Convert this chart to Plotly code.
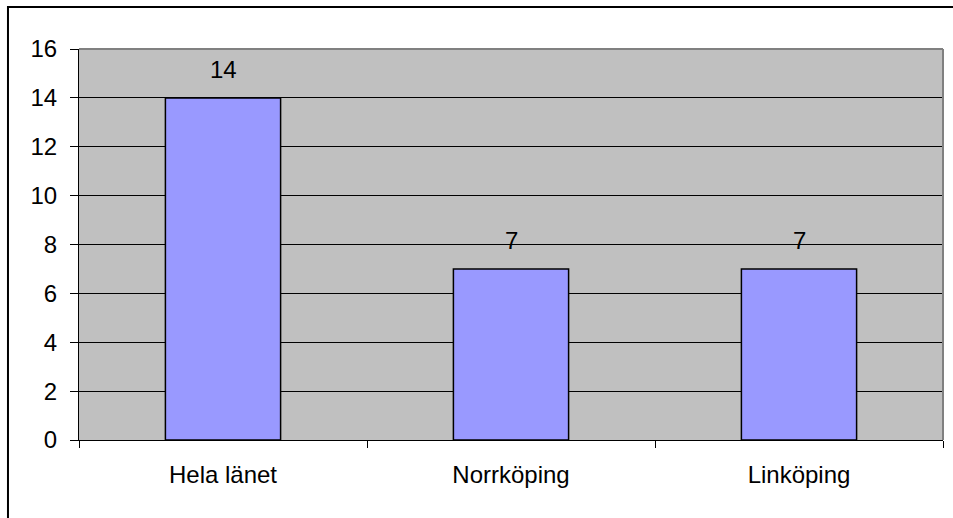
import plotly.graph_objects as go

categories = ["Hela länet", "Norrköping", "Linköping"]
values = [14, 7, 7]
y_ticks = [0, 2, 4, 6, 8, 10, 12, 14, 16]

FONT = "Liberation Sans, Arial, sans-serif"
FS = 24

fig = go.Figure()
fig.add_trace(go.Bar(
    x=categories, y=values, width=0.4,
    marker=dict(color="#9999FF", line=dict(color="black", width=1.5)),
    hoverinfo="x+y",
))

for c, v in zip(categories, values):
    fig.add_annotation(x=c, y=v, text=str(v), showarrow=False,
                       yanchor="middle", yshift=28.5,
                       font=dict(family=FONT, size=FS, color="black"))

# outer chart frame (left and top edges visible)
fig.add_shape(type="rect", xref="paper", yref="paper",
              x0=-0.0822, x1=1.5, y0=-1, y1=1.1074,
              line=dict(color="black", width=2), layer="above")
# plot area top/right border
fig.add_shape(type="line", xref="paper", yref="paper", x0=0, x1=1, y0=1, y1=1,
              line=dict(color="#808080", width=2))
fig.add_shape(type="line", xref="paper", yref="paper", x0=1, x1=1, y0=0, y1=1,
              line=dict(color="#808080", width=2))

fig.update_layout(
    width=953, height=518,
    margin=dict(l=79, r=10, t=49, b=78),
    paper_bgcolor="white", plot_bgcolor="#C0C0C0",
    font=dict(family=FONT, size=FS, color="black"),
    showlegend=False,
    xaxis=dict(
        type="category", tickson="boundaries", ticks="outside", ticklen=7,
        tickcolor="black", tickwidth=1, showline=True, linecolor="black", linewidth=1,
        showgrid=False, ticklabelstandoff=13, tickfont=dict(size=FS),
    ),
    yaxis=dict(
        range=[0, 16], tickvals=y_ticks, ticks="outside", ticklen=8,
        tickcolor="black", tickwidth=1, showline=True, linecolor="black", linewidth=1,
        showgrid=True, gridcolor="black", gridwidth=1, zeroline=False,
        ticklabelstandoff=8, tickfont=dict(size=FS),
    ),
)

fig.write_html("out.html", config={"displayModeBar": False},
               post_script="document.body.style.margin='0';document.body.style.overflow='hidden';")
